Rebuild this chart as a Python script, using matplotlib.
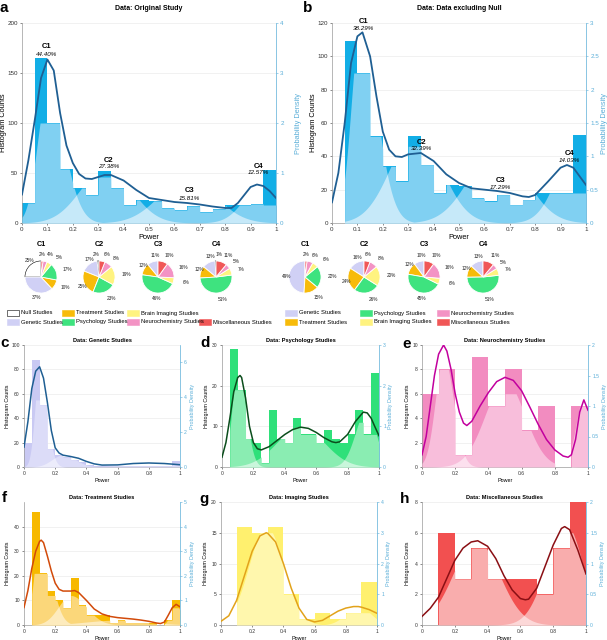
import numpy as np
import matplotlib.pyplot as plt
from matplotlib.patches import Rectangle
from matplotlib.ticker import StrMethodFormatter

plt.rcParams['font.family'] = ['Liberation Sans', 'DejaVu Sans']

W, H = 607, 640

# ---------------- panel a: original study (0.05 bins) ----------------
a_counts = [20, 165, 100, 54, 35, 28, 52, 35, 18, 23, 22, 15, 13, 17, 11, 14, 18, 18, 19, 53]
a_light = [20, 100, 100, 54, 35, 28, 46, 35, 18, 23, 22, 15, 13, 17, 11, 14, 18, 18, 19, 18]
a_mu = [0.10, 0.33, 0.65, 0.97]
a_sl = [0.04, 0.10, 0.11, 0.08]
a_sr = [0.065, 0.10, 0.11, 0.08]
a_h = [130, 55, 45, 50]
a_cx = [0, 0.025, 0.05, 0.075, 0.1, 0.125, 0.15, 0.175, 0.2, 0.225, 0.25, 0.275, 0.3, 0.325,
        0.35, 0.4, 0.45, 0.5, 0.55, 0.6, 0.65, 0.7, 0.75, 0.8, 0.825, 0.85, 0.875, 0.9, 0.925,
        0.95, 0.975, 1.0]
a_cy = [0.57, 1.25, 2.05, 2.9, 3.27, 3.05, 2.2, 1.55, 1.2, 0.98, 0.89, 0.88, 0.92, 0.96,
        0.96, 0.85, 0.66, 0.5, 0.46, 0.42, 0.4, 0.37, 0.33, 0.3, 0.3, 0.4, 0.56, 0.72, 0.77,
        0.74, 0.64, 0.5]
a_labels = ['C1', 'C2', 'C3', 'C4']
a_pct = ['44.40%', '27.38%', '15.81%', '12.57%']
a_lab_x = [0.097, 0.34, 0.66, 0.93]
a_lab_y = [176, 63, 32, 57]

# ---------------- panel b: data excluding null ----------------
b_counts = [0, 109, 90, 52, 34, 25, 52, 35, 18, 23, 22, 15, 13, 17, 11, 14, 18, 18, 18, 53]
b_light = [0, 90, 90, 52, 34, 25, 46, 35, 18, 23, 22, 15, 13, 17, 11, 14, 18, 18, 18, 18]
b_mu = [0.11, 0.33, 0.65, 0.97]
b_sl = [0.035, 0.10, 0.11, 0.08]
b_sr = [0.065, 0.10, 0.11, 0.08]
b_h = [115, 55, 45, 50]
b_cx = [0, 0.025, 0.05, 0.075, 0.1, 0.12, 0.15, 0.175, 0.2, 0.225, 0.25, 0.275, 0.3, 0.35,
        0.4, 0.45, 0.5, 0.55, 0.6, 0.65, 0.7, 0.75, 0.775, 0.8, 0.85, 0.9, 0.925, 0.95, 0.975, 1.0]
b_cy = [0.31, 0.75, 1.5, 2.4, 2.8, 2.86, 2.5, 1.9, 1.37, 1.1, 1.0, 0.99, 1.03, 1.05,
        0.93, 0.73, 0.6, 0.52, 0.5, 0.48, 0.45, 0.4, 0.39, 0.42, 0.62, 0.83, 0.87, 0.83, 0.7, 0.57]
b_pct = ['38.29%', '32.39%', '17.29%', '14.03%']
b_lab_x = [0.125, 0.354, 0.662, 0.934]
b_lab_y = [121, 48.6, 25.7, 41.5]

# ---------------- c: genetic ----------------
c_counts = [20, 88, 51, 15, 10, 8, 6, 4, 2, 1, 1, 1, 1, 1, 1, 1, 1, 1, 1, 5]
c_light = [20, 55, 51, 15, 10, 8, 6, 4, 2, 1, 1, 1, 1, 1, 1, 1, 1, 1, 1, 2]
c_mu = [0.10, 0.25, 0.80]
c_sl = [0.03, 0.07, 0.15]
c_sr = [0.045, 0.08, 0.15]
c_h = [80, 10, 3]
c_cx = [0, 0.025, 0.05, 0.075, 0.1, 0.125, 0.15, 0.175, 0.2, 0.225, 0.25, 0.3, 0.35, 0.4,
        0.45, 0.5, 0.6, 0.7, 0.8, 0.9, 1.0]
c_cy = [1.14, 2.6, 4.5, 5.5, 5.75, 5.1, 3.7, 2.1, 1.1, 0.8, 0.68, 0.6, 0.5, 0.32,
        0.18, 0.11, 0.12, 0.2, 0.23, 0.2, 0.13]

# ---------------- d: psychology ----------------
d_counts = [0, 29, 19, 7, 6, 1, 14, 7, 6, 12, 8, 8, 6, 9, 7, 6, 8, 14, 8, 23]
d_light = [0, 19, 19, 7, 6, 1, 8, 7, 6, 10, 8, 8, 6, 7, 6, 6, 8, 11, 8, 8]
d_mu = [0.10, 0.50, 0.92]
d_sl = [0.035, 0.15, 0.07]
d_sr = [0.05, 0.15, 0.06]
d_h = [25, 10, 14]
d_cx = [0, 0.025, 0.05, 0.075, 0.1, 0.115, 0.125, 0.15, 0.175, 0.2, 0.225, 0.25, 0.3, 0.35,
        0.4, 0.45, 0.5, 0.55, 0.6, 0.65, 0.7, 0.725, 0.75, 0.8, 0.85, 0.9, 0.925, 0.95, 0.975, 1.0]
d_cy = [0.24, 0.6, 1.2, 1.85, 2.2, 2.25, 2.2, 1.7, 1.0, 0.6, 0.45, 0.42, 0.5, 0.65,
        0.8, 0.92, 0.98, 0.95, 0.85, 0.72, 0.62, 0.6, 0.62, 0.8, 1.12, 1.35, 1.33, 1.2, 0.98, 0.77]

# ---------------- e: neurochemistry (0.1 bins) ----------------
e_counts = [6, 8, 1, 9, 5, 8, 3, 5, 0, 5]
e_light = [6, 8, 1, 6, 5, 6, 3, 4, 0, 5]
e_mu = [0.13, 0.50, 0.98]
e_sl = [0.05, 0.12, 0.05]
e_sr = [0.06, 0.12, 0.05]
e_h = [9, 7, 6]
e_cx = [0, 0.025, 0.05, 0.075, 0.1, 0.13, 0.15, 0.175, 0.2, 0.225, 0.25, 0.27, 0.3, 0.35,
        0.4, 0.45, 0.5, 0.55, 0.6, 0.65, 0.7, 0.75, 0.8, 0.85, 0.88, 0.9, 0.925, 0.95, 0.975, 1.0]
e_cy = [0.2, 0.5, 1.0, 1.5, 1.85, 2.0, 1.9, 1.6, 1.2, 0.9, 0.72, 0.68, 0.75, 1.0,
        1.22, 1.4, 1.47, 1.42, 1.25, 0.98, 0.7, 0.45, 0.28, 0.18, 0.16, 0.2, 0.45, 0.9, 1.1, 0.93]

# ---------------- f: treatment ----------------
f_counts = [0, 46, 21, 14, 10, 7, 19, 8, 4, 4, 4, 1, 2, 1, 1, 1, 1, 0, 2, 10]
f_light = [0, 21, 21, 12, 10, 7, 12, 8, 4, 4, 3, 1, 2, 1, 1, 1, 0.5, 0, 2, 7]
f_mu = [0.10, 0.30, 0.60, 0.97]
f_sl = [0.035, 0.08, 0.2, 0.03]
f_sr = [0.07, 0.10, 0.2, 0.04]
f_h = [35, 12, 2, 8]
f_cx = [0, 0.025, 0.05, 0.075, 0.1, 0.11, 0.125, 0.15, 0.175, 0.2, 0.225, 0.25, 0.3, 0.325,
        0.35, 0.4, 0.45, 0.5, 0.55, 0.6, 0.65, 0.7, 0.75, 0.8, 0.85, 0.875, 0.9, 0.925, 0.95,
        0.975, 1.0]
f_cy = [0.71, 1.4, 2.3, 3.0, 3.4, 3.45, 3.35, 2.8, 2.2, 1.7, 1.45, 1.38, 1.38, 1.4,
        1.32, 1.0, 0.65, 0.45, 0.35, 0.3, 0.27, 0.24, 0.2, 0.15, 0.08, 0.06, 0.12, 0.4, 0.7,
        0.84, 0.74]

# ---------------- g: imaging (0.1 bins) ----------------
g_counts = [0, 16, 15, 16, 5, 1, 2, 1, 2, 7]
g_light = [0, 15, 15, 15, 5, 1, 2, 1, 2, 2]
g_mu = [0.29, 0.88]
g_sl = [0.11, 0.08]
g_sr = [0.11, 0.08]
g_h = [16, 3]
g_cx = [0, 0.05, 0.1, 0.15, 0.2, 0.25, 0.29, 0.3, 0.35, 0.4, 0.45, 0.5, 0.55, 0.6, 0.65,
        0.7, 0.75, 0.8, 0.85, 0.88, 0.9, 0.95, 1.0]
g_cy = [0.12, 0.3, 0.8, 1.6, 2.4, 2.9, 3.0, 2.98, 2.7, 2.0, 1.2, 0.55, 0.18, 0.1, 0.15,
        0.3, 0.45, 0.55, 0.6, 0.6, 0.58, 0.5, 0.38]

# ---------------- h: miscellaneous (0.1 bins) ----------------
h_counts = [0, 6, 3, 5, 3, 3, 3, 2, 5, 8]
h_light = [0, 6, 3, 5, 3, 3, 3, 2, 5, 6]
h_mu = [0.33, 0.88]
h_sl = [0.14, 0.12]
h_sr = [0.14, 0.10]
h_h = [5.5, 6.5]
h_cx = [0, 0.05, 0.1, 0.15, 0.2, 0.25, 0.3, 0.34, 0.4, 0.45, 0.5, 0.55, 0.6, 0.63, 0.65,
        0.7, 0.75, 0.8, 0.85, 0.87, 0.9, 0.95, 1.0]
h_cy = [0.14, 0.27, 0.45, 0.75, 1.05, 1.25, 1.35, 1.37, 1.28, 1.08, 0.8, 0.57, 0.43, 0.41,
        0.42, 0.6, 0.95, 1.3, 1.57, 1.6, 1.55, 1.22, 0.83]

# ---------------- pies ----------------
categories = ['Null Studies', 'Genetic Studies', 'Treatment Studies', 'Psychology Studies',
              'Brain Imaging Studies', 'Neurochemistry Studies', 'Miscellaneous Studies']
cat_colors = ['white', '#d0d0f5', '#f7bb0a', '#3ee37f', '#fff380', '#f393c4', '#f05757']
pie_a_c1 = [25, 37, 10, 17, 5, 4, 2]
pie_a_c2 = [2, 17, 25, 23, 19, 8, 6]
pie_a_c3 = [0, 11, 12, 46, 6, 16, 10]
pie_a_c4 = [1, 13, 12, 51, 7, 5, 11]
pie_b_c1 = [0, 49, 15, 22, 6, 6, 2]
pie_b_c2 = [0, 16, 24, 26, 20, 8, 6]
pie_b_c3 = [0, 10, 12, 45, 6, 16, 10]
pie_b_c4 = [0, 13, 12, 51, 7, 5, 11]

fig = plt.figure(figsize=(6.07, 6.40), dpi=100)
dens_col = '#5aaed8'


def px_axes(l, t, r, b):
    return fig.add_axes([l / W, 1 - b / H, (r - l) / W, (b - t) / H])


def draw_panel(ax, counts, light, mu, sl, sr, hh, cx, cy, cols, ymax, dmax,
               yt, dt, xt, big, title, lab_x):
    nb = len(counts)
    bw = 1.0 / nb
    edges = np.arange(nb) * bw
    ax.bar(edges, counts, width=bw, align='edge', color=cols[0], lw=0, zorder=2)
    x = np.linspace(0, 1, 2001)
    idx = np.minimum((x / bw + 1e-9).astype(int), nb - 1)
    cap = np.asarray(light, float)[idx]
    comps = np.array([h * np.exp(-(x - m) ** 2 / (2 * np.where(x < m, a, b) ** 2))
                      for m, a, b, h in zip(mu, sl, sr, hh)])
    srt = np.sort(comps, axis=0)
    ax.fill_between(x, 0, np.minimum(cap, srt[-1]), color=cols[1], lw=0, zorder=3)
    ax.fill_between(x, 0, np.minimum(cap, srt[-2]), color=cols[2], lw=0, zorder=4)
    ax.set_xlim(0, 1)
    ax.set_ylim(0, ymax)
    ax.set_yticks(yt)
    ax.set_xticks(xt)
    ax.xaxis.set_major_formatter(StrMethodFormatter('{x:g}'))
    ax.yaxis.set_major_formatter(StrMethodFormatter('{x:g}'))
    ax.yaxis.grid(True, color='#ececec', lw=0.5)
    ax.set_axisbelow(True)
    fs_t = 4.5 if big else 3.6
    fs_l = 5.3 if big else 3.9
    ax.tick_params(labelsize=fs_t, length=1.5, width=0.4, pad=1.5, colors='#333333')
    for s in ['top', 'right']:
        ax.spines[s].set_visible(False)
    for s in ['left', 'bottom']:
        ax.spines[s].set_color('#9a9a9a')
        ax.spines[s].set_linewidth(0.5)
    ax.set_ylabel('Histogram Counts', fontsize=fs_l)
    ax.yaxis.set_label_coords(lab_x[0], 0.5)
    ax.set_xlabel('Power', fontsize=fs_l, labelpad=1)
    ax2 = ax.twinx()
    ax2.plot(cx, cy, color=cols[3], lw=1.3 if big else 1.1, zorder=5)
    ax2.set_ylim(0, dmax)
    ax2.set_yticks(dt)
    ax2.yaxis.set_major_formatter(StrMethodFormatter('{x:g}'))
    ax2.tick_params(labelsize=fs_t, length=1.5, width=0.4, pad=1.5, colors=dens_col)
    for s in ['top', 'left', 'bottom']:
        ax2.spines[s].set_visible(False)
    ax2.spines['right'].set_color(dens_col)
    ax2.spines['right'].set_linewidth(0.5)
    ax2.set_ylabel('Probability Density', fontsize=fs_l, color=dens_col)
    ax2.yaxis.set_label_coords(lab_x[1], 0.5)
    ax.set_title(title, fontsize=5 if big else 4.1, fontweight='bold',
                 pad=9 if big else 2)
    return ax2


xt_big = [0, 0.1, 0.2, 0.3, 0.4, 0.5, 0.6, 0.7, 0.8, 0.9, 1.0]
xt_small = [0, 0.2, 0.4, 0.6, 0.8, 1.0]
blue = ['#12aee6', '#80d0f2', '#c6e9f9', '#1f5f93']

ax_a = px_axes(22, 23, 276, 223)
draw_panel(ax_a, a_counts, a_light, a_mu, a_sl, a_sr, a_h, a_cx, a_cy, blue, 200, 4,
           [0, 50, 100, 150, 200], [0, 1, 2, 3, 4], xt_big, True, 'Data: Original Study',
           (-0.06, 1.075))
for lx, ly, lb, pc in zip(a_lab_x, a_lab_y, a_labels, a_pct):
    ax_a.text(lx, ly, lb, fontsize=5.5, fontweight='bold', ha='center', va='center', zorder=6)
    ax_a.text(lx, ly - 7, pc, fontsize=4.5, style='italic', ha='center', va='center', zorder=6)

ax_b = px_axes(332, 23, 586, 223)
draw_panel(ax_b, b_counts, b_light, b_mu, b_sl, b_sr, b_h, b_cx, b_cy, blue, 120, 3,
           [0, 20, 40, 60, 80, 100, 120], [0, 0.5, 1, 1.5, 2, 2.5, 3], xt_big, True,
           'Data: Data excluding Null', (-0.06, 1.06))
for lx, ly, lb, pc in zip(b_lab_x, b_lab_y, a_labels, b_pct):
    ax_b.text(lx, ly, lb, fontsize=5.5, fontweight='bold', ha='center', va='center', zorder=6)
    ax_b.text(lx, ly - 4.2, pc, fontsize=4.5, style='italic', ha='center', va='center', zorder=6)

ax_c = px_axes(24, 345, 180, 467)
draw_panel(ax_c, c_counts, c_light, c_mu, c_sl, c_sr, c_h, c_cx, c_cy,
           ['#c9c9f3', '#dcdcf8', '#ececfb', '#1f5f93'], 100, 7,
           [0, 20, 40, 60, 80, 100], [0, 2, 4, 6], xt_small, False, 'Data: Genetic Studies',
           (-0.09, 1.065))
ax_d = px_axes(222, 345, 379, 467)
draw_panel(ax_d, d_counts, d_light, d_mu, d_sl, d_sr, d_h, d_cx, d_cy,
           ['#2fe07a', '#8aedb2', '#c9f6db', '#0b4d1c'], 30, 3,
           [0, 10, 20, 30], [0, 1, 2, 3], xt_small, False, 'Data: Psychology Studies',
           (-0.08, 1.06))
ax_e = px_axes(422, 345, 588, 467)
draw_panel(ax_e, e_counts, e_light, e_mu, e_sl, e_sr, e_h, e_cx, e_cy,
           ['#f28cc0', '#f8bedb', '#fce0ee', '#c2009e'], 10, 2,
           [0, 2, 4, 6, 8, 10], [0, 0.5, 1, 1.5, 2], xt_small, False,
           'Data: Neurochemistry Studies', (-0.075, 1.085))
ax_f = px_axes(24, 502, 180, 625)
draw_panel(ax_f, f_counts, f_light, f_mu, f_sl, f_sr, f_h, f_cx, f_cy,
           ['#f7b900', '#fbd77a', '#fdebbd', '#d24a0a'], 50, 5,
           [0, 10, 20, 30, 40], [0, 1, 2, 3, 4, 5], xt_small, False, 'Data: Treatment Studies',
           (-0.09, 1.065))
ax_g = px_axes(221, 502, 377, 625)
draw_panel(ax_g, g_counts, g_light, g_mu, g_sl, g_sr, g_h, g_cx, g_cy,
           ['#fff06e', '#fff7ad', '#fffbd8', '#e2a21a'], 20, 4,
           [0, 5, 10, 15, 20], [0, 1, 2, 3, 4], xt_small, False, 'Data: Imaging Studies',
           (-0.085, 1.06))
ax_h = px_axes(422, 502, 586, 625)
draw_panel(ax_h, h_counts, h_light, h_mu, h_sl, h_sr, h_h, h_cx, h_cy,
           ['#f25050', '#f9adad', '#fcd8d8', '#8a0f14'], 8, 2,
           [0, 2, 4, 6, 8], [0, 0.5, 1, 1.5, 2], xt_small, False,
           'Data: Miscellaneous Studies', (-0.075, 1.085))

# panel letters
for lt, px, py in [('a', 4, 8), ('b', 308, 8), ('c', 5, 343), ('d', 205, 343), ('e', 407, 344),
                   ('f', 4, 498), ('g', 204, 499), ('h', 405, 499)]:
    fig.text(px / W, 1 - py / H, lt, fontsize=11, fontweight='bold', ha='center', va='center')

# overlay for pies and legends (1 unit = 1 pixel)
ov = fig.add_axes([0, 0, 1, 1])
pie_sets = [(pie_a_c1, 41), (pie_a_c2, 99), (pie_a_c3, 158), (pie_a_c4, 216),
            (pie_b_c1, 305), (pie_b_c2, 364), (pie_b_c3, 424), (pie_b_c4, 483)]
for i, (vals, cxp) in enumerate(pie_sets):
    keep = [k for k, v in enumerate(vals) if v > 0]
    v = [vals[k] for k in keep]
    wedges, texts = ov.pie(v, colors=[cat_colors[k] for k in keep], startangle=90,
                           counterclock=True, center=(cxp, H - 277), radius=16,
                           explode=[0.05] * len(v), labels=[f'{vals[k]}%' for k in keep],
                           labeldistance=1.42, frame=True,
                           wedgeprops=dict(edgecolor='white', linewidth=0.6),
                           textprops=dict(fontsize=3.4, color='#222222'))
    for w, t, k in zip(wedges, texts, keep):
        if k == 0:
            w.set_edgecolor('black')
            w.set_linewidth(0.4)
        # spread the crowded labels of the tiny slices near the top
        tx, ty = t.get_position()
        if k == 0 and vals[k] == 2:
            t.set_position((tx - 5, ty))
        elif k >= 4 and vals[k] <= 6 and vals[0] != 2:
            t.set_position((tx + {4: 3, 5: 0, 6: -4}[k], ty))
    ov.text(cxp, H - 244, a_labels[i % 4], fontsize=5.2, fontweight='bold',
            ha='center', va='center')


def legend_item(px, py, k):
    ec = 'black' if k == 0 else cat_colors[k]
    ov.add_patch(Rectangle((px, H - py - 3), 12, 6, facecolor=cat_colors[k], edgecolor=ec, lw=0.4))
    ov.text(px + 14, H - py, categories[k], fontsize=4.2, va='center', ha='left')


for k, px, py in [(0, 7, 313), (1, 7, 322), (2, 62, 313), (3, 62, 322), (4, 127, 313),
                  (5, 127, 322), (6, 199, 322)]:
    legend_item(px, py, k)
for k, px, py in [(1, 285, 313), (2, 285, 322), (3, 360, 313), (4, 360, 322),
                  (5, 437, 313), (6, 437, 322)]:
    legend_item(px, py, k)

ov.set_xlim(0, W)
ov.set_ylim(0, H)
ov.set_aspect('auto')
ov.axis('off')

fig.savefig('out.png', dpi=100)
